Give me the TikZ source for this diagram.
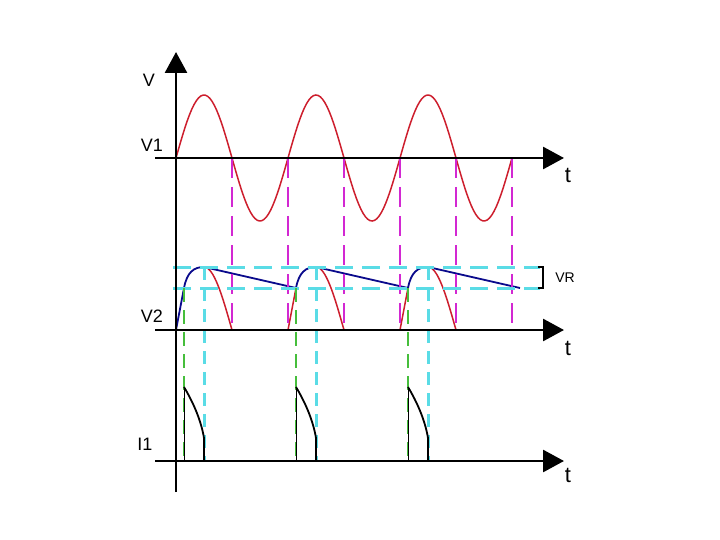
\documentclass[tikz,border=0pt]{standalone}
\usepackage{fontspec}
\setmainfont{Liberation Sans}
\usetikzlibrary{arrows.meta,calc,positioning}
\definecolor{sinred}{RGB}{205,30,45}
\definecolor{pulsemag}{RGB}{210,40,210}
\definecolor{levcyan}{RGB}{90,220,230}
\definecolor{capblue}{RGB}{10,10,140}
\definecolor{diodegreen}{RGB}{70,190,60}
\tikzset{axisline/.style={line width=2.8pt,-{Triangle[length=21pt,width=22pt]}},
  wave/.style={sinred,line width=1.5pt},
  capv/.style={capblue,line width=1.8pt},
  magdash/.style={pulsemag,line width=1.5pt,dash pattern=on 20pt off 9pt},
  cyandash/.style={levcyan,line width=3pt,dash pattern=on 18pt off 9pt},
  greendash/.style={diodegreen,line width=1.1pt,dash pattern=on 14pt off 8pt},
  lab/.style={inner sep=0pt,font=\fontsize{18}{20}\selectfont},
  tlab/.style={inner sep=0pt,font=\fontsize{22}{24}\selectfont}}

\begin{document}
\begin{tikzpicture}[x=1pt,y=-1pt]
\useasboundingbox (0,0) rectangle (720,540);
% V1 and the rectified V2
\draw[wave] plot[domain=0:336,samples=150] ({176+\x},{158-63*sin(\x/56*180)});
\foreach \s in {176,288,400}{\draw[wave] plot[domain=30:56,samples=40] ({\s+\x},{330-63*sin(\x/56*180)});}
\foreach \s in {288,400}{\draw[wave] (\s,330) -- (\s+8,288);}
\draw[capv] (176,330) -- (184,288) .. controls (187,272) and (194,267) .. (204,267) -- (296,288)
  .. controls (299,272) and (306,267) .. (316,267) -- (408,288) .. controls (411,272) and (418,267) .. (428,267) -- (520,288);
% guide lines
\foreach \x in {232,344,456}{\draw[magdash] (\x,158) -- (\x,330);}
\foreach \x in {288,400,512}{\draw[magdash,line width=2.2pt] (\x,158) -- (\x,330);}
\foreach \y in {267,288}{\draw[cyandash] (173,\y) -- (540,\y);}
\foreach \x in {184,296,408}{\draw[greendash] (\x,288) -- (\x,461);}
\foreach \x in {204,316,428}{\draw[cyandash,dash pattern=on 13pt off 8pt] (\x,267) -- (\x,461);}
\draw[line width=1.6pt] (538,267) -- (543,267) -- (543,288) -- (538,288);
% diode current
\foreach \s in {184,296,408}{
  \draw[line width=0.9pt] (\s,461) -- (\s,387);
  \draw[line width=1.8pt] (\s,387) .. controls (\s+9,402) and (\s+17,420) .. (\s+20,438) -- (\s+20,461);}
% axes
\coordinate (bot) at (176,492); \coordinate (top) at (176,52);
\draw[axisline] (bot) -- (top);
\foreach \n/\y in {v1/158,v2/330,i1/461}{
  \coordinate (\n l) at (155,\y); \coordinate (\n r) at (564,\y);
  \draw[axisline] (\n l) -- (\n r);}
\node[lab] (vlab) at (149,80) {V};
\node[lab] (v1lab) at (152,145) {V1};
\node[lab] (v2lab) at (152,316) {V2};
\node[lab] (i1lab) at (145,444) {I1};
\foreach \n/\y in {v1/175,v2/348,i1/475}{\node[tlab] (t\n) at (568,\y) {t};}
\node[inner sep=0pt,font=\fontsize{14}{16}\selectfont] (vr) at (565,278) {VR};
\end{tikzpicture}
\end{document}
